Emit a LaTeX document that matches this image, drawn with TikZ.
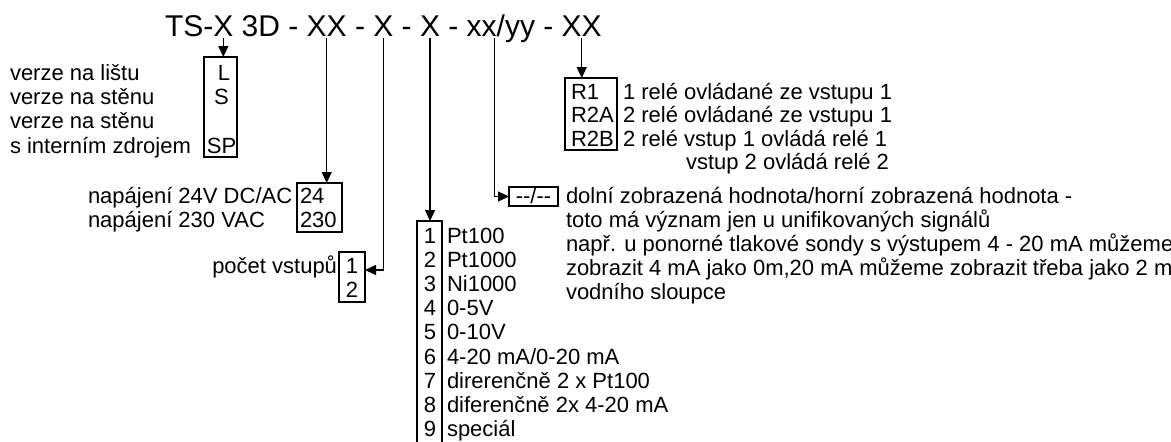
\documentclass[tikz,border=0pt]{standalone}
\usepackage{fontspec}
\setmainfont{Liberation Sans}
\usetikzlibrary{arrows.meta,calc}
\begin{document}
\begin{tikzpicture}[x=1pt,y=-1pt,
  every node/.style={inner sep=0pt, outer sep=0pt, font=\fontsize{22}{26}\selectfont, text=black},
  ttl/.style={font=\fontsize{30}{36}\selectfont, anchor=base west},
  lbl/.style={anchor=base west},
  ctr/.style={anchor=base},
  box/.style={draw, line width=1.3pt, rectangle},
  conn/.style={line width=1.3pt, -{Triangle[length=11pt,width=10pt]}},
]
\useasboundingbox (0,0) rectangle (1171,442);

% title
\node[ttl] (a0) at (165,36) {TS-};
\node[ttl] (t1) at (a0.base east) {X};
\node[ttl] (a1) at (t1.base east) {\mbox{}\ 3D -\ \mbox{}};
\node[ttl] (t2) at (a1.base east) {XX};
\node[ttl] (a2) at (t2.base east) {\mbox{}\ -\ \mbox{}};
\node[ttl] (t3) at (a2.base east) {X};
\node[ttl] (a3) at (t3.base east) {\mbox{}\ -\ \mbox{}};
\node[ttl] (t4) at (a3.base east) {X};
\node[ttl] (a4) at (t4.base east) {\mbox{}\ -\ \mbox{}};
\node[ttl] (t5) at (a4.base east) {xx};
\node[ttl] (a5) at (t5.base east) {/yy -\ \mbox{}};
\node[ttl] (t6) at (a5.base east) {XX};
\coordinate (c5) at ([xshift=-2pt]t5.south east);

% boxes
\node[box, minimum width=33pt, minimum height=100pt] (ls) at (220.5,107) {};
\node[box, minimum width=45pt, minimum height=49pt] (pw) at (319.5,207.5) {};
\node[box, minimum width=26pt, minimum height=50pt] (in2) at (352,277) {};
\node[box, minimum width=25pt, minimum height=241pt] (typ) at (429.5,341.5) {};
\node[box, minimum width=49pt, minimum height=19pt] (dsh) at (533.5,196.5) {};
\node[box, minimum width=52pt, minimum height=72pt] (rb) at (591,114) {};

% connectors
\draw[conn] ([yshift=-2pt]t1.south) -- (t1.south |- ls.north);
\draw[conn] ([yshift=-2pt]t2.south) -- (t2.south |- pw.north);
\draw[conn] ([yshift=-2pt]t3.south) |- ([yshift=7pt]in2.east);
\draw[conn] ([yshift=-2pt]t4.south) -- (t4.south |- typ.north);
\draw[conn] ([yshift=-2pt]c5) |- (dsh.west);
\draw[conn] ([yshift=-2pt]t6.south) -- (t6.south |- rb.north);

% mounting version
\node[lbl] (v1) at (10,80) {verze na lištu};
\node[lbl] (v2) at (10,104.4) {verze na stěnu};
\node[lbl] (v3) at (10,128.8) {verze na stěnu};
\node[lbl] (v4) at (10,153.2) {s interním zdrojem};
\node[ctr] (lsL) at (224,80) {L};
\node[ctr] (lsS) at (221.5,104.4) {S};
\node[ctr] (lsSP) at (221.5,153.2) {SP};

% power
\node[lbl] (p1) at (88,203) {napájení 24V DC/AC};
\node[lbl] (p2) at (88,227) {napájení 230 VAC};
\node[lbl] (pw1) at (300,203) {24};
\node[lbl] (pw2) at (300,227) {230};

% inputs
\node[anchor=base east] (inl) at (337,273) {počet vstupů};
\node[ctr] (in2a) at (352,273) {1};
\node[ctr] (in2b) at (352,297.5) {2};

% sensor types
\foreach \i/\t in {1/{Pt100}, 2/{Pt1000}, 3/{Ni1000}, 4/{0-5V}, 5/{0-10V}, 6/{4-20 mA/0-20 mA}, 7/{direrenčně 2 x Pt100}, 8/{diferenčně 2x 4-20 mA}, 9/{speciál}}{
  \node[ctr] (tn\i) at (430,{243+24.2*(\i-1)}) {\i};
  \node[lbl] (tl\i) at (447,{243+24.2*(\i-1)}) {\t};
}

% display range
\node[ctr] (dsht) at (533.5,203) {-{}-/-{}-};
\node[lbl] (d1) at (566,203) {dolní zobrazená hodnota/horní zobrazená hodnota -};
\node[lbl] (d2) at (566,227) {toto má význam jen u unifikovaných signálů};
\node[lbl] (d3) at (566,251) {např. u ponorné tlakové sondy s výstupem 4 - 20 mA můžeme};
\node[lbl] (d4) at (566,275) {zobrazit 4 mA jako 0m,20 mA můžeme zobrazit třeba jako 2 m};
\node[lbl] (d5) at (566,299) {vodního sloupce};

% relays
\node[lbl] (r1) at (571,99) {R1};
\node[lbl] (r2) at (571,122.5) {R2A};
\node[lbl] (r3) at (571,146) {R2B};
\node[lbl] (rl1) at (623,99) {1 relé ovládané ze vstupu 1};
\node[lbl] (rl2) at (623,122.5) {2 relé ovládané ze vstupu 1};
\node[lbl] (rl3) at (623,146) {2 relé vstup 1 ovládá relé 1};
\node[lbl] (rl4) at (686,169.5) {vstup 2 ovládá relé 2};
\end{tikzpicture}
\end{document}
